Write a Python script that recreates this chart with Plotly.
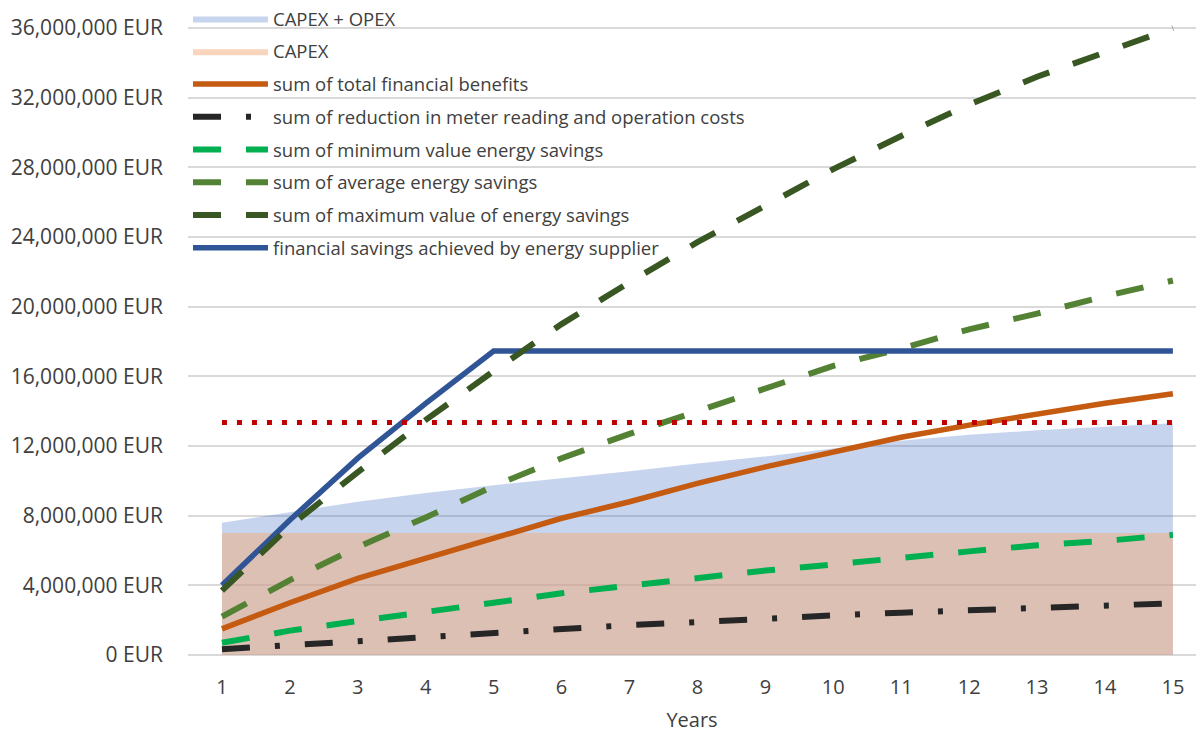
import plotly.graph_objects as go

years = [1, 2, 3, 4, 5, 6, 7, 8, 9, 10, 11, 12, 13, 14, 15]

# values in million EUR
capex_opex = [7.6, 8.2, 8.8, 9.3, 9.75, 10.15, 10.55, 11.0, 11.4, 11.85, 12.3, 12.65, 12.9, 13.1, 13.3]
capex = [7.0, 7.0, 7.0, 7.0, 7.0, 7.0, 7.0, 7.0, 7.0, 7.0, 7.0, 7.0, 7.0, 7.0, 7.0]
total_benefits = [1.5, 3.0, 4.4, 5.55, 6.7, 7.85, 8.8, 9.85, 10.8, 11.65, 12.5, 13.2, 13.85, 14.45, 15.0]
meter_reduction = [0.33, 0.56, 0.82, 1.05, 1.3, 1.55, 1.72, 1.89, 2.1, 2.27, 2.43, 2.58, 2.72, 2.85, 2.97]
min_savings = [0.7, 1.4, 1.95, 2.45, 3.0, 3.55, 4.0, 4.45, 4.85, 5.2, 5.6, 5.95, 6.3, 6.55, 6.9]
avg_savings = [2.2, 4.3, 6.2, 7.9, 9.7, 11.3, 12.7, 14.0, 15.35, 16.6, 17.6, 18.7, 19.6, 20.6, 21.5]
max_savings = [3.7, 7.4, 10.5, 13.5, 16.3, 19.0, 21.4, 23.7, 25.8, 27.9, 29.8, 31.6, 33.2, 34.6, 36.0]
supplier_savings = [4.0, 7.75, 11.3, 14.45, 17.45, 17.45, 17.45, 17.45, 17.45, 17.45, 17.45, 17.45, 17.45, 17.45, 17.45]
threshold = [13.35, 13.35, 13.35, 13.35, 13.35, 13.35, 13.35, 13.35, 13.35, 13.35, 13.35, 13.35, 13.35, 13.35, 13.35]

y_ticks = [0, 4, 8, 12, 16, 20, 24, 28, 32, 36]

M = 1_000_000
def eur(v):
    return [x * M for x in v]

FONT = "Open Sans"
TXT = "#404040"

# plot area runs from the figure top; the 36M gridline sits 28 px below it
PLOT_TOP_PX, AXIS_PX = 0, 655
Y_TOP = 36 * M * (AXIS_PX - PLOT_TOP_PX) / (AXIS_PX - 28)

fig = go.Figure()

fig.add_trace(go.Scatter(x=years, y=eur(capex_opex), name="CAPEX + OPEX", mode="lines",
                         line=dict(width=0), fill="tozeroy", fillcolor="rgba(68,114,196,0.3)",
                         legendgroup="a"))
fig.add_trace(go.Scatter(x=years, y=eur(capex), name="CAPEX", mode="lines",
                         line=dict(width=0), fill="tozeroy", fillcolor="rgba(243,171,123,0.5)",
                         legendgroup="b"))
fig.add_trace(go.Scatter(x=years, y=eur(total_benefits), name="sum of total financial benefits",
                         mode="lines", line=dict(color="#C55A11", width=5.5), legendgroup="c"))
fig.add_trace(go.Scatter(x=years, y=eur(meter_reduction),
                         name="sum of reduction in meter reading and operation costs",
                         mode="lines", line=dict(color="#262626", width=6, dash="28px,25px,5px,25px"),
                         legendgroup="d"))
fig.add_trace(go.Scatter(x=years, y=eur(min_savings), name="sum of minimum value energy savings",
                         mode="lines", line=dict(color="#00B050", width=6, dash="28px,25px"),
                         legendgroup="e"))
fig.add_trace(go.Scatter(x=years, y=eur(avg_savings), name="sum of average energy savings",
                         mode="lines", line=dict(color="#548235", width=6, dash="28px,25px"),
                         legendgroup="f"))
fig.add_trace(go.Scatter(x=years, y=eur(supplier_savings),
                         name="financial savings achieved by energy supplier",
                         mode="lines", line=dict(color="#2F5597", width=5.5), legendgroup="h",
                         legendrank=1008))
fig.add_trace(go.Scatter(x=years, y=eur(max_savings), name="sum of maximum value of energy savings",
                         mode="lines", line=dict(color="#385723", width=6, dash="28px,25px"),
                         legendgroup="g", legendrank=1007))
fig.add_trace(go.Scatter(x=years, y=eur(threshold), name="threshold", showlegend=False,
                         mode="lines", line=dict(color="#C00000", width=5, dash="5px,10px")))

fig.update_layout(
    width=1196, height=733,
    margin=dict(l=188, r=0, t=PLOT_TOP_PX, b=733 - AXIS_PX),
    paper_bgcolor="white", plot_bgcolor="white",
    font=dict(family=FONT, color=TXT, size=20),
    showlegend=True,
    legend=dict(x=0.0, y=1.0, xanchor="left", yanchor="top", bgcolor="rgba(0,0,0,0)",
                font=dict(family=FONT, size=18.5, color=TXT), tracegroupgap=5.7,
                itemwidth=75, traceorder="grouped"),
    xaxis=dict(range=[0.5, 15.34], tickmode="array", tickvals=years,
               ticktext=[str(y) for y in years], showgrid=False, zeroline=False,
               showline=False, ticks="", ticklabelstandoff=18, automargin=False,
               tickfont=dict(size=20, color=TXT),
               title=dict(text="Years", font=dict(size=20, color=TXT), standoff=21)),
    yaxis=dict(range=[0, Y_TOP], tickmode="array", tickvals=[t * M for t in y_ticks],
               ticktext=[f"{t * M:,.0f} EUR" for t in y_ticks], automargin=False,
               showgrid=True, gridcolor="#D9D9D9", gridwidth=1.5, zeroline=True,
               zerolinecolor="#D9D9D9", zerolinewidth=1.5, showline=False, ticks="",
               ticklabelstandoff=24, tickfont=dict(size=21, color=TXT)),
)

fig.write_html("out.html", config={"displayModeBar": False},
               post_script="document.body.style.margin='0';")
